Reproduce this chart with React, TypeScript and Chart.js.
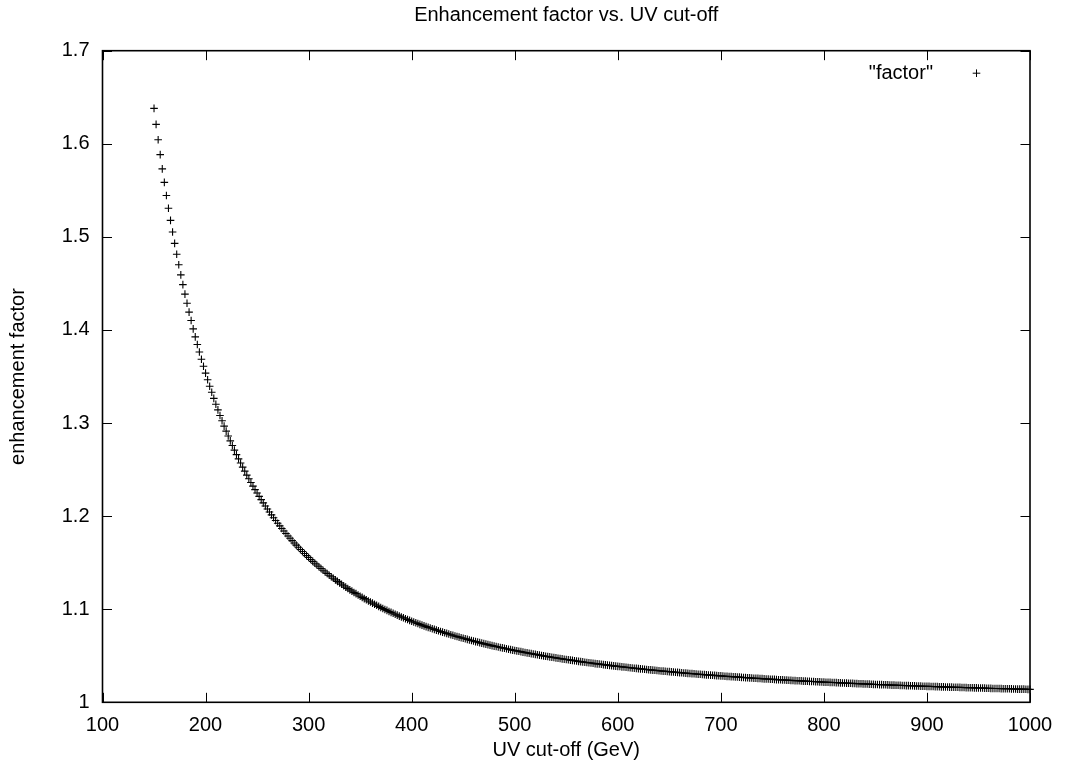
import { useEffect, useRef } from "react";
import { Chart, registerables } from "chart.js";

Chart.register(...registerables);

// UV cut-off values (GeV) of the plotted points
const uvCutoff = [
  150, 152, 154, 156, 158, 160, 162, 164, 166, 168, 170, 172, 174, 176, 178, 180, 182, 184, 186, 188, 190, 192, 194, 196, 198,
  200, 202, 204, 206, 208, 210, 212, 214, 216, 218, 220, 222, 224, 226, 228, 230, 232, 234, 236, 238, 240, 242, 244, 246, 248,
  250, 252, 254, 256, 258, 260, 262, 264, 266, 268, 270, 272, 274, 276, 278, 280, 282, 284, 286, 288, 290, 292, 294, 296, 298,
  300, 302, 304, 306, 308, 310, 312, 314, 316, 318, 320, 322, 324, 326, 328, 330, 332, 334, 336, 338, 340, 342, 344, 346, 348,
  350, 352, 354, 356, 358, 360, 362, 364, 366, 368, 370, 372, 374, 376, 378, 380, 382, 384, 386, 388, 390, 392, 394, 396, 398,
  400, 402, 404, 406, 408, 410, 412, 414, 416, 418, 420, 422, 424, 426, 428, 430, 432, 434, 436, 438, 440, 442, 444, 446, 448,
  450, 452, 454, 456, 458, 460, 462, 464, 466, 468, 470, 472, 474, 476, 478, 480, 482, 484, 486, 488, 490, 492, 494, 496, 498,
  500, 502, 504, 506, 508, 510, 512, 514, 516, 518, 520, 522, 524, 526, 528, 530, 532, 534, 536, 538, 540, 542, 544, 546, 548,
  550, 552, 554, 556, 558, 560, 562, 564, 566, 568, 570, 572, 574, 576, 578, 580, 582, 584, 586, 588, 590, 592, 594, 596, 598,
  600, 602, 604, 606, 608, 610, 612, 614, 616, 618, 620, 622, 624, 626, 628, 630, 632, 634, 636, 638, 640, 642, 644, 646, 648,
  650, 652, 654, 656, 658, 660, 662, 664, 666, 668, 670, 672, 674, 676, 678, 680, 682, 684, 686, 688, 690, 692, 694, 696, 698,
  700, 702, 704, 706, 708, 710, 712, 714, 716, 718, 720, 722, 724, 726, 728, 730, 732, 734, 736, 738, 740, 742, 744, 746, 748,
  750, 752, 754, 756, 758, 760, 762, 764, 766, 768, 770, 772, 774, 776, 778, 780, 782, 784, 786, 788, 790, 792, 794, 796, 798,
  800, 802, 804, 806, 808, 810, 812, 814, 816, 818, 820, 822, 824, 826, 828, 830, 832, 834, 836, 838, 840, 842, 844, 846, 848,
  850, 852, 854, 856, 858, 860, 862, 864, 866, 868, 870, 872, 874, 876, 878, 880, 882, 884, 886, 888, 890, 892, 894, 896, 898,
  900, 902, 904, 906, 908, 910, 912, 914, 916, 918, 920, 922, 924, 926, 928, 930, 932, 934, 936, 938, 940, 942, 944, 946, 948,
  950, 952, 954, 956, 958, 960, 962, 964, 966, 968, 970, 972, 974, 976, 978, 980, 982, 984, 986, 988, 990, 992, 994, 996, 998,
  1000,
];

// enhancement factor
const factor = [
  1.6380, 1.6208, 1.6043, 1.5884, 1.5731, 1.5585, 1.5444, 1.5308, 1.5177, 1.5052, 1.4930, 1.4814, 1.4701, 1.4592, 1.4487, 1.4385, 1.4287, 1.4192, 1.4101, 1.4012, 1.3926, 1.3843, 1.3763, 1.3685, 1.3610,
  1.3536, 1.3465, 1.3396, 1.3330, 1.3265, 1.3202, 1.3141, 1.3081, 1.3024, 1.2967, 1.2913, 1.2860, 1.2808, 1.2758, 1.2709, 1.2661, 1.2615, 1.2570, 1.2526, 1.2483, 1.2441, 1.2401, 1.2361, 1.2322, 1.2285,
  1.2248, 1.2212, 1.2177, 1.2142, 1.2109, 1.2076, 1.2044, 1.2013, 1.1983, 1.1953, 1.1924, 1.1895, 1.1867, 1.1840, 1.1813, 1.1787, 1.1762, 1.1737, 1.1712, 1.1689, 1.1665, 1.1642, 1.1620, 1.1598, 1.1576,
  1.1555, 1.1534, 1.1514, 1.1494, 1.1475, 1.1456, 1.1437, 1.1418, 1.1400, 1.1383, 1.1365, 1.1348, 1.1332, 1.1315, 1.1299, 1.1283, 1.1268, 1.1252, 1.1237, 1.1223, 1.1208, 1.1194, 1.1180, 1.1167, 1.1153,
  1.1140, 1.1127, 1.1114, 1.1102, 1.1089, 1.1077, 1.1065, 1.1053, 1.1042, 1.1030, 1.1019, 1.1008, 1.0997, 1.0987, 1.0976, 1.0966, 1.0956, 1.0946, 1.0936, 1.0926, 1.0917, 1.0908, 1.0898, 1.0889, 1.0880,
  1.0871, 1.0863, 1.0854, 1.0846, 1.0837, 1.0829, 1.0821, 1.0813, 1.0805, 1.0798, 1.0790, 1.0783, 1.0775, 1.0768, 1.0761, 1.0754, 1.0747, 1.0740, 1.0733, 1.0726, 1.0720, 1.0713, 1.0707, 1.0700, 1.0694,
  1.0688, 1.0682, 1.0676, 1.0670, 1.0664, 1.0658, 1.0652, 1.0647, 1.0641, 1.0636, 1.0630, 1.0625, 1.0620, 1.0614, 1.0609, 1.0604, 1.0599, 1.0594, 1.0589, 1.0585, 1.0580, 1.0575, 1.0570, 1.0566, 1.0561,
  1.0557, 1.0552, 1.0548, 1.0544, 1.0539, 1.0535, 1.0531, 1.0527, 1.0523, 1.0519, 1.0515, 1.0511, 1.0507, 1.0503, 1.0499, 1.0495, 1.0492, 1.0488, 1.0484, 1.0481, 1.0477, 1.0474, 1.0470, 1.0467, 1.0463,
  1.0460, 1.0457, 1.0453, 1.0450, 1.0447, 1.0444, 1.0440, 1.0437, 1.0434, 1.0431, 1.0428, 1.0425, 1.0422, 1.0419, 1.0416, 1.0413, 1.0411, 1.0408, 1.0405, 1.0402, 1.0399, 1.0397, 1.0394, 1.0391, 1.0389,
  1.0386, 1.0384, 1.0381, 1.0379, 1.0376, 1.0374, 1.0371, 1.0369, 1.0366, 1.0364, 1.0362, 1.0359, 1.0357, 1.0355, 1.0353, 1.0350, 1.0348, 1.0346, 1.0344, 1.0342, 1.0339, 1.0337, 1.0335, 1.0333, 1.0331,
  1.0329, 1.0327, 1.0325, 1.0323, 1.0321, 1.0319, 1.0317, 1.0315, 1.0313, 1.0311, 1.0310, 1.0308, 1.0306, 1.0304, 1.0302, 1.0301, 1.0299, 1.0297, 1.0295, 1.0294, 1.0292, 1.0290, 1.0289, 1.0287, 1.0285,
  1.0284, 1.0282, 1.0280, 1.0279, 1.0277, 1.0276, 1.0274, 1.0273, 1.0271, 1.0270, 1.0268, 1.0267, 1.0265, 1.0264, 1.0262, 1.0261, 1.0259, 1.0258, 1.0257, 1.0255, 1.0254, 1.0252, 1.0251, 1.0250, 1.0248,
  1.0247, 1.0246, 1.0244, 1.0243, 1.0242, 1.0241, 1.0239, 1.0238, 1.0237, 1.0236, 1.0234, 1.0233, 1.0232, 1.0231, 1.0230, 1.0228, 1.0227, 1.0226, 1.0225, 1.0224, 1.0223, 1.0221, 1.0220, 1.0219, 1.0218,
  1.0217, 1.0216, 1.0215, 1.0214, 1.0213, 1.0212, 1.0211, 1.0210, 1.0209, 1.0208, 1.0207, 1.0206, 1.0205, 1.0204, 1.0203, 1.0202, 1.0201, 1.0200, 1.0199, 1.0198, 1.0197, 1.0196, 1.0195, 1.0194, 1.0193,
  1.0192, 1.0191, 1.0190, 1.0190, 1.0189, 1.0188, 1.0187, 1.0186, 1.0185, 1.0184, 1.0183, 1.0183, 1.0182, 1.0181, 1.0180, 1.0179, 1.0179, 1.0178, 1.0177, 1.0176, 1.0175, 1.0175, 1.0174, 1.0173, 1.0172,
  1.0171, 1.0171, 1.0170, 1.0169, 1.0168, 1.0168, 1.0167, 1.0166, 1.0166, 1.0165, 1.0164, 1.0163, 1.0163, 1.0162, 1.0161, 1.0161, 1.0160, 1.0159, 1.0159, 1.0158, 1.0157, 1.0156, 1.0156, 1.0155, 1.0155,
  1.0154, 1.0153, 1.0153, 1.0152, 1.0151, 1.0151, 1.0150, 1.0149, 1.0149, 1.0148, 1.0148, 1.0147, 1.0146, 1.0146, 1.0145, 1.0145, 1.0144, 1.0143, 1.0143, 1.0142, 1.0142, 1.0141, 1.0141, 1.0140, 1.0139,
  1.0139,
];

const xTickValues = [100, 200, 300, 400, 500, 600, 700, 800, 900, 1000];
const xTickLabels = ["100", "200", "300", "400", "500", "600", "700", "800", "900", "1000"];
const yTickValues = [1, 1.1, 1.2, 1.3, 1.4, 1.5, 1.6, 1.7];
const yTickLabels = ["1", "1.1", "1.2", "1.3", "1.4", "1.5", "1.6", "1.7"];

const chartTitle = "Enhancement factor vs. UV cut-off";
const xAxisTitle = "UV cut-off (GeV)";
const yAxisTitle = "enhancement factor";
const seriesLabel = '"factor"';

const FAMILY = "'Liberation Sans', Arial, Helvetica, sans-serif";
const FONT_SIZE = 20;

export default function App() {
  const canvasRef = useRef<HTMLCanvasElement | null>(null);

  useEffect(() => {
    const canvas = canvasRef.current;
    if (!canvas) return;

    const frame = {
      id: "gnuplotFrame",
      afterDatasetsDraw(chart: any) {
        const { ctx, chartArea: a, scales } = chart;
        const xs = scales.x;
        const ys = scales.y;
        const tick = 9.5;
        ctx.save();
        ctx.strokeStyle = "#000";
        ctx.lineWidth = 1;
        ctx.beginPath();
        for (const v of xTickValues) {
          const px = Math.round(xs.getPixelForValue(v)) + 0.5;
          ctx.moveTo(px, a.bottom);
          ctx.lineTo(px, a.bottom - tick);
          ctx.moveTo(px, a.top);
          ctx.lineTo(px, a.top + tick);
        }
        for (const v of yTickValues) {
          const py = Math.round(ys.getPixelForValue(v)) + 0.5;
          ctx.moveTo(a.left, py);
          ctx.lineTo(a.left + tick, py);
          ctx.moveTo(a.right, py);
          ctx.lineTo(a.right - tick, py);
        }
        ctx.stroke();

        ctx.lineWidth = 1.6;
        ctx.strokeRect(a.left, a.top, a.right - a.left, a.bottom - a.top);

        // key (legend) in gnuplot style
        const ky = a.top + 22.5;
        ctx.fillStyle = "#000";
        ctx.font = `${FONT_SIZE}px ${FAMILY}`;
        ctx.textAlign = "right";
        ctx.textBaseline = "middle";
        ctx.fillText(seriesLabel, a.right - 97, ky);
        ctx.lineWidth = 1;
        ctx.beginPath();
        const mx = a.right - 53.5;
        ctx.moveTo(mx - 3.8, ky);
        ctx.lineTo(mx + 3.8, ky);
        ctx.moveTo(mx, ky - 3.8);
        ctx.lineTo(mx, ky + 3.8);
        ctx.stroke();
        ctx.restore();
      },
    };

    const font = { family: FAMILY, size: FONT_SIZE, weight: "normal" as const };

    const chart = new Chart(canvas, {
      type: "scatter",
      data: {
        datasets: [
          {
            label: seriesLabel,
            data: uvCutoff.map((x, i) => ({ x, y: factor[i] })),
            pointStyle: "cross",
            pointRadius: 3.8,
            pointHoverRadius: 3.8,
            borderColor: "#000",
            backgroundColor: "#000",
            borderWidth: 1.1,
            showLine: false,
            clip: 12,
          } as any,
        ],
      },
      options: {
        responsive: false,
        maintainAspectRatio: false,
        devicePixelRatio: 1,
        animation: false,
        events: [],
        layout: { padding: { left: 0, right: 40, top: 0, bottom: 0 } },
        plugins: {
          legend: { display: false },
          tooltip: { enabled: false },
          title: {
            display: true,
            fullSize: false,
            text: chartTitle,
            color: "#000",
            font,
            padding: { top: 3.5, bottom: 23.2 },
          },
        },
        scales: {
          x: {
            type: "linear",
            min: 100,
            max: 1000,
            afterBuildTicks: (s: any) => {
              s.ticks = xTickValues.map((v) => ({ value: v }));
            },
            afterFit: (s: any) => {
              s.height = 66.7;
            },
            ticks: {
              color: "#000",
              font,
              padding: 11,
              maxRotation: 0,
              autoSkip: false,
              callback: (_v: any, i: number) => xTickLabels[i],
            },
            grid: { display: false, drawTicks: false },
            border: { display: false },
            title: {
              display: true,
              text: xAxisTitle,
              color: "#000",
              font,
              padding: { top: 0, bottom: 7 },
            },
          },
          y: {
            type: "linear",
            min: 1,
            max: 1.7,
            afterBuildTicks: (s: any) => {
              s.ticks = yTickValues.map((v) => ({ value: v }));
            },
            afterFit: (s: any) => {
              s.width = 102.5;
            },
            ticks: {
              color: "#000",
              font,
              padding: 13,
              autoSkip: false,
              callback: (_v: any, i: number) => yTickLabels[i],
            },
            grid: { display: false, drawTicks: false },
            border: { display: false },
            title: {
              display: true,
              text: yAxisTitle,
              color: "#000",
              font,
              padding: { top: 6, bottom: 0 },
            },
          },
        },
      },
      plugins: [frame],
    });

    return () => {
      chart.destroy();
    };
  }, []);

  return (
    <div
      style={{
        position: "absolute",
        left: 0,
        top: 0,
        width: 1070,
        height: 769,
        background: "#fff",
      }}
    >
      <canvas
        ref={canvasRef}
        width={1070}
        height={769}
        style={{ display: "block", width: 1070, height: 769 }}
      />
    </div>
  );
}
